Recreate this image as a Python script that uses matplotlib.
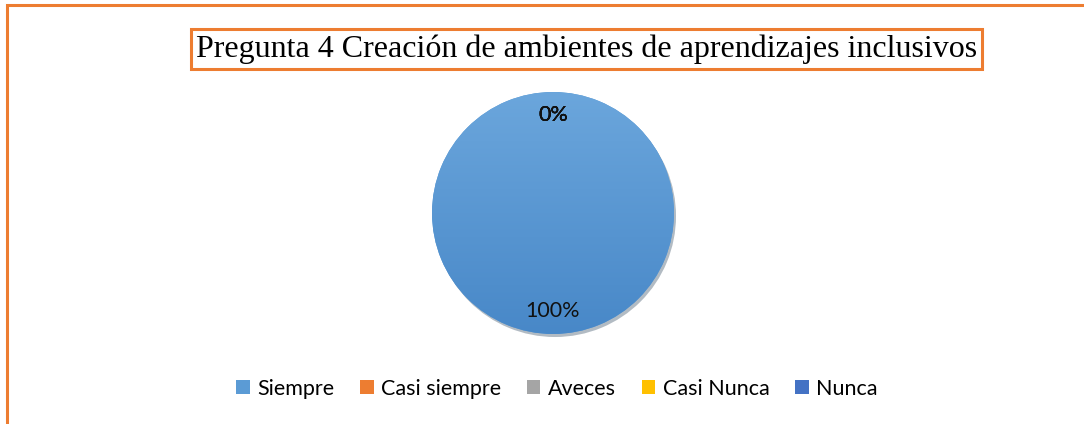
import numpy as np
import matplotlib.pyplot as plt
from matplotlib.patches import Rectangle, Patch
from matplotlib.colors import LinearSegmentedColormap

categories = ["Siempre", "Casi siempre", "Aveces", "Casi Nunca", "Nunca"]
values = [100, 0, 0, 0, 0]
colors = ["#5B9BD5", "#ED7D31", "#A5A5A5", "#FFC000", "#4472C4"]
title = "Pregunta 4 Creación de ambientes de aprendizajes inclusivos"

W, H = 1084, 424
fig = plt.figure(figsize=(W / 100, H / 100), dpi=100)
fig.patch.set_facecolor("white")

# outer orange frame (runs off the right and bottom edges)
fig.patches.append(Rectangle((6.5 / W, -0.05), 1.2, 1 - 4.5 / H + 0.05,
                             transform=fig.transFigure, fill=False,
                             edgecolor="#ED7D31", linewidth=2.2))

# pie
cx, cy, r = 553, H - 213, 121
ax = fig.add_axes([(cx - r) / W, (cy - r) / H, 2 * r / W, 2 * r / H])
wedges, _, autotexts = ax.pie(values, colors=colors, startangle=90, counterclock=False,
                              autopct="%1.0f%%", pctdistance=0.81, radius=1,
                              shadow={"ox": 0.012, "oy": -0.018, "shade": 0.6, "alpha": 0.35},
                              wedgeprops={"linewidth": 0})
for t in autotexts:
    t.set_fontsize(15.5)
    t.set_fontfamily("Lato")
    t.set_color("#111111")
    t.set_zorder(3)

# subtle vertical gradient on the filled wedge
grad = np.linspace(0, 1, 256).reshape(-1, 1)
cmap = LinearSegmentedColormap.from_list("g", ["#6BA6DC", "#4888C8"])
im = ax.imshow(grad, extent=[-1, 1, -1, 1], cmap=cmap, origin="upper", zorder=1.5, aspect="auto")
im.set_clip_path(wedges[0])
ax.set_xlim(-1, 1)
ax.set_ylim(-1, 1)
ax.set_aspect("equal")
ax.axis("off")

# title with orange box
fig.text(586.5 / W, (H - 49) / H, title, ha="center", va="center",
         fontsize=23, family="Liberation Serif", color="black",
         bbox=dict(boxstyle="square,pad=0.17", facecolor="white",
                   edgecolor="#ED7D31", linewidth=2.2))

# legend
handles = [Patch(facecolor=c, edgecolor="none") for c in colors]
fig.legend(handles, categories, loc="center", bbox_to_anchor=(557 / W, (H - 389) / H),
           ncol=5, frameon=False, prop={"family": "Lato", "size": 15.5},
           handlelength=0.62, handleheight=0.62, handletextpad=0.35, columnspacing=1.2)

fig.savefig("out.png", dpi=100)
